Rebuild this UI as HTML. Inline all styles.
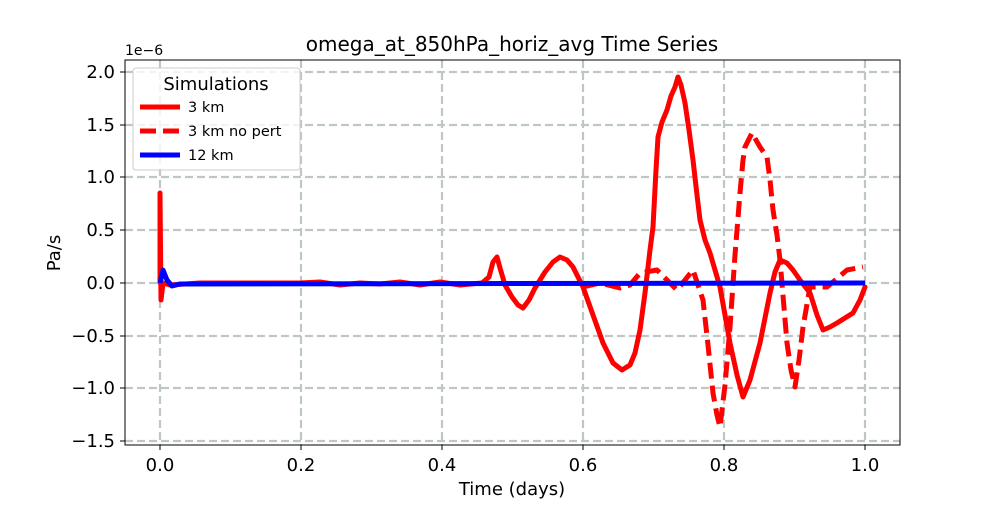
<!DOCTYPE html><html><head><style>body{margin:0;background:#fff}svg{font-family:"DejaVu Sans","Liberation Sans",sans-serif}</style></head><body>
<svg width="1000" height="500" viewBox="0 0 1000 500">
<rect width="1000" height="500" fill="#fff"/>
<g stroke="#b0b8b8" stroke-width="2.2" stroke-dasharray="8,4" opacity="0.8">
<line x1="160" y1="60" x2="160" y2="445"/><line x1="301" y1="60" x2="301" y2="445"/><line x1="442" y1="60" x2="442" y2="445"/><line x1="583" y1="60" x2="583" y2="445"/><line x1="724" y1="60" x2="724" y2="445"/><line x1="865" y1="60" x2="865" y2="445"/>
<line x1="125" y1="72" x2="900" y2="72"/><line x1="125" y1="125" x2="900" y2="125"/><line x1="125" y1="177" x2="900" y2="177"/><line x1="125" y1="230" x2="900" y2="230"/><line x1="125" y1="283" x2="900" y2="283"/><line x1="125" y1="336" x2="900" y2="336"/><line x1="125" y1="388" x2="900" y2="388"/><line x1="125" y1="441" x2="900" y2="441"/>
</g>
<g fill="none" stroke="red" stroke-width="5" stroke-linejoin="round" stroke-linecap="round">
<polyline points="160,283 160,193 161,300 163,283 170,285 200,283 300,283 320,282 340,285 360,283 380,284 400,282 420,285 440,282 460,285 482,283 489,277 493,262 497,257 500,268 505,285 512,297 518,305 523,308 529,300 535,288 545,272 553,262 560,257 567,260 573,267 583,287 593,315 603,343 613,363 622,370 630,365 635,353 640,330 645,293 650,250 653,227 656,170 658,137 662,122 667,110 671,96 675,87 678,77 681,85 685,103 689,130 693,160 697,195 700,220 705,240 710,253 715,270 720,287 730,343 737,375 743,397 750,380 760,343 770,293 775,272 780,260 787,263 793,270 800,280 810,293 817,315 823,330 830,327 837,323 845,318 853,313 860,300 865,287"/>
<polyline stroke-dasharray="16,7" stroke-linecap="butt" points="583,287 600,283 620,288 630,285 640,273 657,270 677,290 693,270 703,300 708,345 713,393 717,415 720,427 725,385 730,327 735,255 740,193 743,160 745,147 752,133 760,147 767,157 770,180 773,210 777,235 780,260 787,343 791,370 795,387 799,360 803,327 810,287 827,287 847,270 863,267"/>
</g>
<polyline fill="none" stroke="blue" stroke-width="5" stroke-linejoin="round" points="160,283 163,270 167,280 172,286 180,284 865,283"/>
<rect x="125" y="60" width="775" height="385" fill="none" stroke="#000" stroke-width="1"/>
<g stroke="#000"><line x1="160" y1="445" x2="160" y2="450"/><line x1="301" y1="445" x2="301" y2="450"/><line x1="442" y1="445" x2="442" y2="450"/><line x1="583" y1="445" x2="583" y2="450"/><line x1="724" y1="445" x2="724" y2="450"/><line x1="865" y1="445" x2="865" y2="450"/>
<line x1="120" y1="72" x2="125" y2="72"/><line x1="120" y1="125" x2="125" y2="125"/><line x1="120" y1="177" x2="125" y2="177"/><line x1="120" y1="230" x2="125" y2="230"/><line x1="120" y1="283" x2="125" y2="283"/><line x1="120" y1="336" x2="125" y2="336"/><line x1="120" y1="388" x2="125" y2="388"/><line x1="120" y1="441" x2="125" y2="441"/></g>
<g font-size="18" text-anchor="middle"><text x="160" y="471">0.0</text><text x="301" y="471">0.2</text><text x="442" y="471">0.4</text><text x="583" y="471">0.6</text><text x="724" y="471">0.8</text><text x="865" y="471">1.0</text></g>
<g font-size="18" text-anchor="end"><text x="115" y="78">2.0</text><text x="115" y="131">1.5</text><text x="115" y="183">1.0</text><text x="115" y="236">0.5</text><text x="115" y="289">0.0</text><text x="115" y="342">−0.5</text><text x="115" y="394">−1.0</text><text x="115" y="447">−1.5</text></g>
<text x="125" y="55" font-size="14">1e−6</text>
<text x="512" y="51" font-size="20" text-anchor="middle">omega_at_850hPa_horiz_avg Time Series</text>
<text x="512" y="495" font-size="18" text-anchor="middle">Time (days)</text>
<text transform="translate(60,253) rotate(-90)" font-size="18" text-anchor="middle">Pa/s</text>
<rect x="133" y="68" width="167" height="102" rx="3" fill="#fff" fill-opacity="0.8" stroke="#ccc"/>
<text x="216" y="90" font-size="18" text-anchor="middle">Simulations</text>
<line x1="140" y1="107" x2="180" y2="107" stroke="red" stroke-width="5"/>
<line x1="140" y1="131" x2="180" y2="131" stroke="red" stroke-width="5" stroke-dasharray="16,7"/>
<line x1="140" y1="155" x2="180" y2="155" stroke="blue" stroke-width="5"/>
<g font-size="14.5"><text x="188" y="112">3 km</text><text x="188" y="136">3 km no pert</text><text x="188" y="160">12 km</text></g>
</svg></body></html>
